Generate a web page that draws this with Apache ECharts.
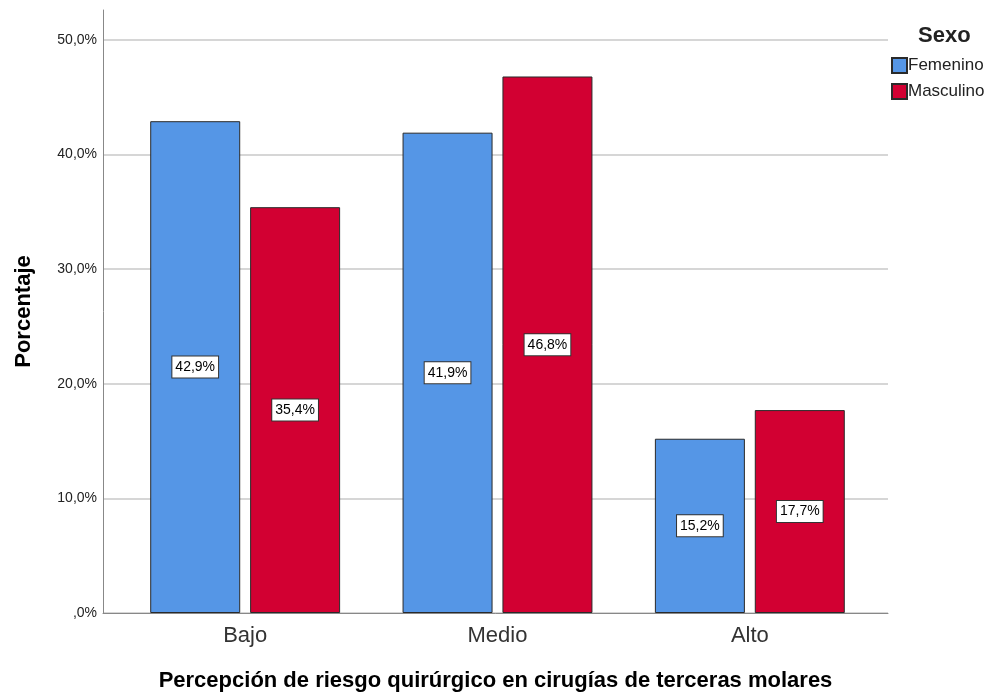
<!DOCTYPE html>
<html>
<head>
<meta charset="utf-8">
<script src="https://cdn.jsdelivr.net/npm/echarts@6/dist/echarts.min.js"></script>
<style>
html, body { margin: 0; padding: 0; background: #fff; }
#chart { width: 998px; height: 695px; }
</style>
</head>
<body>
<div id="chart"></div>
<script>
// datos
var categorias = ['Bajo', 'Medio', 'Alto'];
var femenino = [42.9, 41.9, 15.2];
var masculino = [35.4, 46.8, 17.7];
var ticksY = [0, 10, 20, 30, 40, 50];

var chart = echarts.init(document.getElementById('chart'));
var fuente = 'Arial, "Liberation Sans", sans-serif';
var fmtPct = function (v) {
    var s = v.toFixed(1).replace('.', ',');
    if (s.indexOf('0,') === 0) s = s.substring(1);
    return s + '%';
};
var etiqueta = {
    show: true,
    position: 'inside',
    formatter: function (p) { return fmtPct(p.value); },
    color: '#000',
    fontFamily: fuente,
    fontSize: 14,
    backgroundColor: '#fff',
    borderColor: '#333',
    borderWidth: 1,
    padding: [4, 3, 3, 3]
};

var option = {
    animation: false,
    backgroundColor: '#fff',
    grid: [
        // línea del eje Y hasta arriba
        { left: 103, right: 110, top: 10, bottom: 82, outerBoundsMode: 'none' },
        // barras (con margen interior como en SPSS)
        { left: 119, right: 122, top: 10, bottom: 82, outerBoundsMode: 'none' },
        // cuadrícula y etiquetas de 0 a 50
        { left: 103, right: 110, top: 40, bottom: 82, outerBoundsMode: 'none' }
    ],
    xAxis: [
        {
            gridIndex: 0, type: 'value', min: 0, max: 1, show: false
        },
        {
            gridIndex: 1, type: 'category', data: categorias,
            axisLine: { show: false }, axisTick: { show: false },
            axisLabel: { fontFamily: fuente, fontSize: 22, color: '#333', margin: 12 }
        },
        {
            gridIndex: 2, type: 'value', min: 0, max: 1,
            axisLine: { show: true, onZero: false, lineStyle: { color: '#888', width: 1 } },
            axisTick: { show: false }, axisLabel: { show: false }, splitLine: { show: false },
            name: 'Percepción de riesgo quirúrgico en cirugías de terceras molares',
            nameLocation: 'middle', nameGap: 57,
            nameTextStyle: { fontFamily: fuente, fontSize: 22, fontWeight: 'bold', color: '#000' }
        }
    ],
    yAxis: [
        {
            gridIndex: 0, type: 'value', min: 0, max: 52.6,
            axisLine: { show: true, onZero: false, lineStyle: { color: '#888', width: 1 } },
            axisTick: { show: false }, axisLabel: { show: false }, splitLine: { show: false },
            name: 'Porcentaje', nameLocation: 'middle', nameGap: 68, nameRotate: 90,
            nameTextStyle: { fontFamily: fuente, fontSize: 22, fontWeight: 'bold', color: '#000' }
        },
        {
            gridIndex: 1, type: 'value', min: 0, max: 52.6,
            show: false
        },
        {
            gridIndex: 2, type: 'value', min: 0, max: 50, interval: 10,
            axisLine: { show: false }, axisTick: { show: false },
            axisLabel: {
                fontFamily: fuente, fontSize: 14, color: '#222', margin: 6,
                formatter: function (v) { return ticksY.indexOf(v) >= 0 ? fmtPct(v) : ''; }
            },
            splitLine: { show: true, lineStyle: { color: '#c8c8c8', width: 1.5 } }
        }
    ],
    legend: {
        orient: 'vertical', left: 886, top: 52,
        itemWidth: 15, itemHeight: 15, itemGap: 9,
        icon: 'rect',
        textStyle: { fontFamily: fuente, fontSize: 17, color: '#222', padding: [0, 0, 0, -4] },
        data: ['Femenino', 'Masculino']
    },
    title: {
        text: 'Sexo', left: 913, top: 20,
        textStyle: { fontFamily: fuente, fontSize: 22, fontWeight: 'bold', color: '#222' }
    },
    series: [
        {
            name: 'Femenino', type: 'bar', xAxisIndex: 1, yAxisIndex: 1,
            data: femenino, barWidth: 90, barGap: '11%',
            itemStyle: { color: '#5596e6', borderColor: '#2a2a2a', borderWidth: 1 },
            label: etiqueta
        },
        {
            name: 'Masculino', type: 'bar', xAxisIndex: 1, yAxisIndex: 1,
            data: masculino, barWidth: 90, barGap: '11%',
            itemStyle: { color: '#d20032', borderColor: '#2a2a2a', borderWidth: 1 },
            label: etiqueta
        }
    ]
};
chart.setOption(option);
</script>
</body>
</html>
